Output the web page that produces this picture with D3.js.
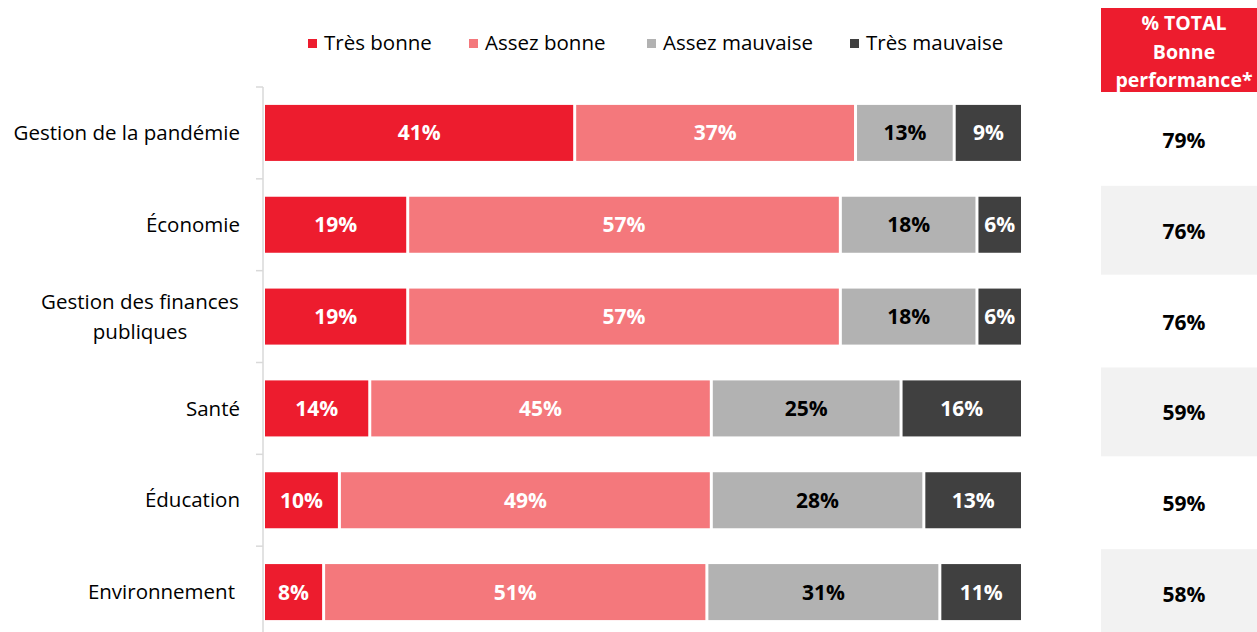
<!DOCTYPE html>
<meta charset="utf-8">
<style>
body { margin: 0; background: #fff; }
svg { display: block; font-family: "Open Sans", sans-serif; }
.axis line { stroke: #d9d9d9; stroke-width: 1.5; }
</style>
<svg></svg>
<script src="https://cdn.jsdelivr.net/npm/d3@7"></script>
<script>
var categories = ["Gestion de la pandémie", "Économie", "Gestion des finances publiques", "Santé", "Éducation", "Environnement"];
var keys = ["Très bonne", "Assez bonne", "Assez mauvaise", "Très mauvaise"];
var tresBonne = [41, 19, 19, 14, 10, 8];
var assezBonne = [37, 57, 57, 45, 49, 51];
var assezMauvaise = [13, 18, 18, 25, 28, 31];
var tresMauvaise = [9, 6, 6, 16, 13, 11];
var totalBonne = [79, 76, 76, 59, 59, 58];
var colors = ["#ed1c2e", "#f4787c", "#b2b2b2", "#404040"];
var labelColors = ["#fff", "#fff", "#000", "#fff"];

var width = 1257, height = 632;
var svg = d3.select("svg").attr("width", width).attr("height", height);

var rows = categories.map(function(c, i) {
  return {cat: c, "Très bonne": tresBonne[i], "Assez bonne": assezBonne[i],
          "Assez mauvaise": assezMauvaise[i], "Très mauvaise": tresMauvaise[i]};
});
var series = d3.stack().keys(keys).offset(d3.stackOffsetExpand)(rows);

var x = d3.scaleLinear().domain([0, 1]).range([265, 1024]);
var y = d3.scaleBand().domain(categories).range([87, 638]).paddingInner(0.39).paddingOuter(0.195);
var gap = 3;

// axis line with ticks between categories
var axis = svg.append("g").attr("class", "axis");
axis.append("line").attr("x1", 263).attr("x2", 263).attr("y1", y.range()[0]).attr("y2", height);
axis.selectAll(".tick").data(d3.range(categories.length))
  .enter().append("line")
    .attr("x1", 256).attr("x2", 263)
    .attr("y1", function(i) { return y.range()[0] + i * y.step(); })
    .attr("y2", function(i) { return y.range()[0] + i * y.step(); });

// category labels
var lines = {"Gestion des finances publiques": ["Gestion des finances", "publiques"]};
var catG = svg.append("g").selectAll("g").data(categories).enter().append("g")
  .attr("transform", function(d) { return "translate(0," + (y(d) + y.bandwidth() / 2) + ")"; });
catG.each(function(d) {
  var g = d3.select(this);
  if (lines[d]) {
    var t = g.append("text").attr("text-anchor", "middle").attr("font-size", 20.5).attr("fill", "#000");
    t.selectAll("tspan").data(lines[d]).enter().append("tspan")
      .attr("x", 140).attr("dy", function(l, i) { return i === 0 ? "-0.35em" : "1.42em"; })
      .text(function(l) { return l; });
  } else {
    g.append("text").attr("x", d === "Environnement" ? 235 : 240).attr("dy", "0.35em")
      .attr("text-anchor", "end").attr("font-size", 20.5).attr("fill", "#000").text(d);
  }
});

// bars
var layer = svg.append("g").selectAll("g").data(series).enter().append("g");
layer.selectAll("rect").data(function(s) { return s; }).enter().append("rect")
  .attr("x", function(d) { return x(d[0]); })
  .attr("y", function(d) { return y(d.data.cat); })
  .attr("width", function(d) { return x(d[1]) - x(d[0]) - gap; })
  .attr("height", y.bandwidth())
  .attr("fill", function(d) { return colors[keys.indexOf(d3.select(this.parentNode).datum().key)]; });
layer.selectAll("text").data(function(s) { return s.map(function(d) { return {d: d, key: s.key}; }); })
  .enter().append("text")
  .attr("x", function(o) { return (x(o.d[0]) + x(o.d[1]) - gap) / 2; })
  .attr("y", function(o) { return y(o.d.data.cat) + y.bandwidth() / 2; })
  .attr("dy", "0.36em").attr("text-anchor", "middle")
  .attr("font-size", 21).attr("font-weight", "bold")
  .attr("fill", function(o) { return labelColors[keys.indexOf(o.key)]; })
  .text(function(o) { return o.d.data[o.key] + "%"; });

// legend
var legendX = [308, 469, 647, 850];
var legend = svg.append("g").selectAll("g").data(keys).enter().append("g")
  .attr("transform", function(d, i) { return "translate(" + legendX[i] + ",43)"; });
legend.append("rect").attr("x", 0).attr("y", -4).attr("width", 9).attr("height", 9)
  .attr("fill", function(d, i) { return colors[i]; });
legend.append("text").attr("x", 16).attr("dy", "0.35em").attr("font-size", 20.5).attr("fill", "#000")
  .text(function(d) { return d; });

// total column
var yt = d3.scaleBand().domain(categories).range([95, 640]);
var tx0 = 1101, tx1 = width, tcx = 1184;
svg.append("rect").attr("x", tx0).attr("y", 8).attr("width", tx1 - tx0).attr("height", 84).attr("fill", "#ed1c2e");
svg.append("text").attr("text-anchor", "middle").attr("fill", "#fff").attr("font-size", 19.5).attr("font-weight", "bold")
  .selectAll("tspan").data(["% TOTAL", "Bonne", "performance*"]).enter().append("tspan")
  .attr("x", tcx).attr("y", function(d, i) { return 30 + i * 28.5; }).text(function(d) { return d; });
svg.append("g").selectAll("rect").data(categories.filter(function(c, i) { return i % 2 === 1; }))
  .enter().append("rect")
  .attr("x", tx0).attr("width", tx1 - tx0)
  .attr("y", function(d) { return yt(d); }).attr("height", yt.bandwidth() - 2)
  .attr("fill", "#f2f2f2");
svg.append("g").selectAll("text").data(categories).enter().append("text")
  .attr("x", tcx).attr("y", function(d) { return yt(d) + yt.bandwidth() / 2; })
  .attr("dy", "0.36em").attr("text-anchor", "middle").attr("font-size", 21).attr("font-weight", "bold")
  .attr("fill", "#000").text(function(d, i) { return totalBonne[i] + "%"; });
</script>
